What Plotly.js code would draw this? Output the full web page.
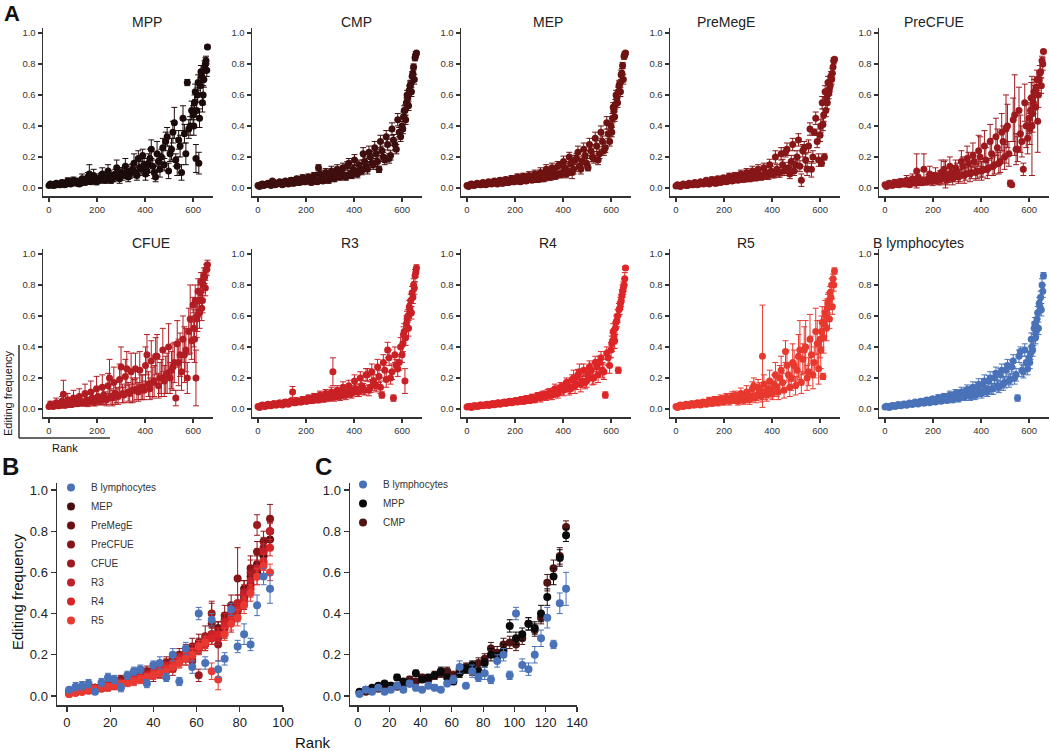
<!DOCTYPE html>
<html>
<head>
<meta charset="utf-8">
<script src="https://cdn.plot.ly/plotly-3.0.1.min.js"></script>
<style>
  html, body { margin: 0; padding: 0; background: #fff; }
  #chart { width: 1050px; height: 751px; }
</style>
</head>
<body>
<div id="chart"></div>
<script>
// ================= DATA: PANEL A (rank vs editing frequency per cell type) =================
// two interleaved rank sets per panel (upper/lower side of the scatter band)
const rankA = [0,12,24,36,48,60,72,84,96,108,
               120,132,144,156,168,180,192,204,216,228,
               240,252,264,276,288,300,312,324,336,348,
               360,372,384,396,408,420,432,444,456,468,
               480,492,504,516,528,540,552,564,576,588,
               600,606,612,618,624,630,636,642,648,654,660];
const rankA2 = [6,18,30,42,54,66,78,90,102,114,
                126,138,150,162,174,186,198,210,222,234,
                246,258,270,282,294,306,318,330,342,354,
                366,378,390,402,414,426,438,450,462,474,
                486,498,510,522,534,546,558,570,582,594,
                603,609,615,621,627,633,639,645,651,657];

const mppVals = [.015,.02,.018,.025,.02,.03,.025,.04,.03,.035,
                 .045,.03,.05,.04,.09,.045,.06,.05,.07,.055,
                 .065,.08,.06,.09,.075,.10,.085,.11,.09,.12,
                 .10,.19,.12,.15,.11,.19,.14,.07,.17,.20,
                 .15,.33,.22,.36,.18,.31,.10,.35,.68,.40,
                 .47,.55,.19,.60,.16,.66,.72,.60,.78,.82,.91];
const mppErr  = [.005,.008,.006,.01,.008,.012,.01,.015,.01,.012,
                 .015,.01,.02,.015,.06,.015,.02,.02,.025,.02,
                 .02,.03,.02,.03,.025,.03,.025,.03,.03,.035,
                 .03,.05,.03,.04,.03,.06,.04,.03,.05,.05,
                 .04,.06,.05,.07,.04,.06,.05,.06,.02,.06,
                 .06,.05,.09,.05,.07,.05,.04,.06,.04,.03,.01];
const mppVals2 = [.025,.015,.03,.02,.035,.02,.045,.025,.05,.03,
                  .025,.06,.035,.07,.04,.08,.04,.06,.09,.05,
                  .11,.05,.07,.13,.06,.09,.14,.07,.11,.16,
                  .08,.13,.21,.09,.16,.25,.10,.22,.12,.26,
                  .30,.11,.25,.42,.14,.27,.45,.22,.38,.50,
                  .40,.62,.50,.68,.45,.75,.55,.70,.80,.76];
const mppErr2  = [.01,.008,.012,.01,.015,.01,.02,.01,.02,.012,
                  .01,.03,.015,.03,.015,.04,.02,.03,.04,.02,
                  .04,.02,.03,.05,.03,.04,.05,.03,.04,.06,
                  .03,.05,.04,.04,.06,.06,.04,.08,.05,.06,
                  .06,.05,.07,.10,.06,.07,.08,.07,.06,.06,
                  .06,.05,.06,.05,.06,.04,.06,.05,.04,.04];

const cmpVals = [.015,.02,.015,.025,.02,.045,.02,.03,.025,.035,
                 .03,.04,.03,.05,.035,.045,.04,.05,.045,.06,
                 .05,.13,.055,.07,.06,.08,.065,.09,.075,.10,
                 .08,.14,.09,.12,.10,.15,.11,.17,.12,.20,
                 .15,.22,.12,.24,.18,.28,.21,.31,.25,.36,
                 .40,.46,.50,.55,.58,.63,.67,.72,.78,.84,.87];
const cmpErr  = [.005,.006,.005,.008,.006,.01,.006,.01,.008,.01,
                 .01,.012,.01,.015,.012,.015,.012,.015,.015,.02,
                 .015,.02,.015,.02,.015,.02,.02,.025,.02,.03,
                 .02,.03,.02,.03,.025,.03,.025,.03,.03,.035,
                 .03,.03,.02,.03,.03,.035,.03,.035,.03,.03,
                 .03,.03,.035,.03,.03,.03,.025,.03,.02,.02,.01];
const cmpVals2 = [.01,.025,.02,.03,.015,.035,.025,.04,.02,.045,
                  .025,.05,.03,.06,.035,.065,.04,.07,.035,.08,
                  .04,.09,.045,.10,.05,.11,.06,.12,.07,.13,
                  .07,.16,.08,.18,.09,.12,.22,.14,.23,.16,
                  .26,.17,.30,.20,.33,.19,.38,.28,.44,.33,
                  .38,.50,.44,.60,.53,.66,.62,.74,.70,.86];
const cmpErr2  = [.005,.008,.006,.01,.006,.01,.008,.012,.008,.012,
                  .01,.015,.01,.015,.012,.02,.012,.02,.015,.02,
                  .015,.025,.015,.025,.02,.03,.02,.03,.02,.03,
                  .02,.03,.02,.035,.025,.03,.04,.03,.04,.03,
                  .04,.03,.04,.03,.04,.03,.04,.03,.04,.03,
                  .03,.03,.03,.03,.03,.03,.03,.03,.03,.02];

const mepVals = [.015,.02,.018,.02,.025,.02,.03,.025,.035,.03,
                 .035,.04,.03,.045,.035,.05,.04,.055,.045,.06,
                 .05,.065,.07,.055,.08,.06,.09,.07,.10,.08,
                 .11,.09,.15,.10,.13,.11,.16,.12,.19,.14,
                 .17,.21,.13,.24,.19,.27,.22,.30,.26,.35,
                 .40,.45,.50,.54,.58,.62,.67,.73,.79,.85,.87];
const mepErr  = [.005,.006,.005,.008,.006,.01,.006,.01,.008,.01,
                 .01,.012,.01,.015,.012,.015,.012,.015,.015,.02,
                 .015,.02,.015,.02,.015,.02,.02,.025,.02,.03,
                 .02,.03,.02,.03,.025,.03,.025,.03,.03,.035,
                 .03,.03,.02,.03,.03,.035,.03,.035,.03,.03,
                 .03,.03,.035,.03,.03,.03,.025,.03,.02,.02,.01];
const mepVals2 = [.01,.025,.015,.03,.02,.035,.02,.04,.025,.045,
                  .025,.05,.03,.055,.035,.06,.04,.07,.04,.075,
                  .045,.08,.05,.09,.055,.10,.06,.12,.07,.13,
                  .075,.14,.085,.17,.09,.20,.10,.18,.23,.12,
                  .25,.16,.28,.20,.32,.18,.36,.24,.42,.30,
                  .36,.52,.46,.60,.55,.66,.62,.74,.70,.86];
const mepErr2  = [.005,.008,.006,.01,.006,.01,.008,.012,.008,.012,
                  .01,.015,.01,.015,.012,.02,.012,.02,.015,.02,
                  .015,.025,.015,.025,.02,.03,.02,.03,.02,.03,
                  .02,.03,.02,.035,.025,.03,.04,.03,.04,.03,
                  .04,.03,.04,.03,.04,.03,.04,.03,.04,.03,
                  .03,.03,.03,.03,.03,.03,.03,.03,.03,.02];

const premegeVals = [.012,.015,.018,.02,.015,.025,.02,.03,.025,.035,
                     .03,.04,.035,.045,.03,.05,.04,.055,.045,.06,
                     .05,.065,.055,.07,.06,.08,.065,.09,.07,.085,
                     .075,.10,.08,.11,.09,.12,.10,.15,.23,.13,
                     .17,.11,.20,.14,.24,.18,.27,.12,.36,.30,
                     .34,.16,.41,.20,.50,.55,.61,.66,.70,.78,.83];
const premegeErr  = [.004,.005,.006,.007,.005,.008,.008,.01,.008,.01,
                     .01,.012,.01,.015,.01,.015,.012,.015,.015,.02,
                     .015,.02,.015,.02,.02,.025,.02,.025,.02,.025,
                     .02,.03,.025,.03,.025,.03,.03,.035,.03,.035,
                     .04,.03,.04,.035,.04,.04,.04,.05,.02,.04,
                     .04,.02,.04,.02,.04,.04,.035,.04,.03,.04,.01];
const premegeVals2 = [.02,.01,.025,.015,.03,.02,.035,.02,.04,.025,
                      .05,.025,.055,.03,.06,.035,.065,.04,.075,.045,
                      .08,.05,.09,.055,.10,.06,.11,.065,.12,.07,
                      .13,.08,.15,.09,.20,.10,.22,.11,.25,.09,
                      .28,.15,.31,.05,.26,.12,.38,.20,.45,.18,
                      .40,.55,.47,.62,.58,.68,.64,.72,.74,.82];
const premegeErr2  = [.005,.004,.006,.005,.008,.006,.01,.006,.01,.008,
                      .012,.008,.015,.01,.015,.012,.015,.012,.02,.015,
                      .02,.015,.025,.015,.025,.02,.03,.02,.03,.02,
                      .03,.025,.035,.025,.04,.03,.04,.03,.04,.03,
                      .04,.04,.04,.04,.04,.04,.04,.04,.04,.04,
                      .04,.04,.04,.04,.04,.04,.04,.03,.03,.02];

const precfueVals = [.02,.015,.025,.02,.03,.02,.035,.025,.04,.03,
                     .04,.11,.035,.05,.04,.06,.045,.07,.05,.08,
                     .06,.09,.065,.10,.07,.11,.08,.14,.09,.16,
                     .10,.17,.11,.20,.12,.18,.13,.22,.15,.26,
                     .17,.30,.38,.22,.02,.47,.25,.35,.12,.40,
                     .45,.50,.40,.55,.60,.65,.43,.70,.75,.82,.88];
const precfueErr  = [.008,.008,.01,.01,.012,.01,.015,.012,.015,.012,
                     .015,.11,.015,.02,.02,.025,.02,.03,.025,.03,
                     .03,.09,.03,.04,.03,.05,.04,.06,.04,.07,
                     .04,.06,.05,.13,.05,.08,.05,.10,.06,.12,
                     .07,.10,.22,.08,.01,.26,.08,.12,.04,.14,
                     .10,.08,.32,.07,.06,.05,.20,.05,.04,.03,.01];
const precfueVals2 = [.01,.03,.015,.035,.02,.04,.025,.05,.02,.06,
                      .03,.07,.035,.12,.04,.09,.045,.08,.05,.10,
                      .12,.05,.14,.06,.13,.07,.17,.08,.19,.09,
                      .21,.10,.24,.11,.27,.12,.30,.14,.33,.16,
                      .36,.20,.40,.03,.44,.25,.50,.30,.55,.32,
                      .38,.58,.48,.62,.52,.70,.60,.74,.66,.80];
const precfueErr2  = [.01,.015,.01,.02,.01,.02,.015,.03,.015,.03,
                      .015,.04,.02,.10,.02,.05,.03,.05,.03,.08,
                      .05,.03,.06,.04,.05,.04,.07,.05,.08,.05,
                      .08,.05,.10,.06,.10,.06,.11,.06,.12,.07,
                      .12,.08,.14,.02,.14,.10,.15,.10,.12,.10,
                      .10,.10,.12,.08,.10,.06,.08,.05,.05,.04];

const cfueVals = [.015,.02,.025,.02,.03,.095,.025,.04,.03,.045,
                  .035,.05,.04,.06,.045,.07,.05,.08,.055,.09,
                  .06,.20,.07,.10,.08,.27,.09,.26,.10,.12,
                  .26,.11,.14,.12,.35,.13,.17,.34,.15,.20,
                  .18,.23,.20,.27,.07,.30,.24,.35,.20,.58,
                  .67,.45,.20,.60,.70,.75,.65,.80,.85,.90,.93];
const cfueErr  = [.008,.01,.012,.01,.015,.09,.012,.02,.015,.02,
                  .015,.03,.02,.04,.02,.04,.03,.05,.03,.06,
                  .04,.12,.05,.07,.05,.13,.05,.11,.06,.08,
                  .10,.06,.08,.06,.13,.07,.10,.12,.08,.12,
                  .10,.13,.10,.15,.05,.15,.12,.18,.10,.22,
                  .05,.15,.18,.10,.06,.05,.08,.05,.04,.03,.03];
const cfueVals2 = [.03,.015,.04,.02,.05,.025,.06,.03,.07,.035,
                   .08,.04,.10,.045,.11,.05,.13,.06,.14,.07,
                   .15,.08,.17,.09,.19,.10,.21,.11,.24,.12,
                   .13,.25,.14,.28,.16,.31,.18,.34,.20,.38,
                   .22,.40,.25,.30,.42,.35,.45,.38,.50,.44,
                   .52,.70,.58,.76,.62,.82,.70,.86,.78,.90];
const cfueErr2  = [.02,.01,.03,.01,.03,.015,.04,.02,.05,.02,
                   .05,.02,.06,.03,.07,.03,.08,.03,.08,.04,
                   .08,.05,.10,.05,.10,.06,.11,.06,.12,.07,
                   .07,.12,.08,.12,.08,.13,.10,.14,.10,.14,
                   .12,.15,.12,.13,.15,.14,.15,.14,.15,.12,
                   .12,.10,.12,.08,.10,.06,.08,.05,.05,.04];

const r3Vals = [.015,.02,.018,.025,.02,.03,.025,.035,.03,.04,
                .035,.045,.11,.04,.05,.045,.055,.05,.06,.055,
                .065,.06,.07,.065,.08,.075,.24,.085,.09,.10,
                .095,.11,.10,.12,.13,.11,.15,.12,.22,.14,
                .18,.15,.21,.09,.25,.38,.20,.07,.28,.30,
                .35,.48,.18,.55,.60,.66,.70,.75,.80,.86,.91];
const r3Err  = [.005,.006,.006,.008,.006,.01,.008,.01,.01,.012,
                .01,.012,.035,.012,.015,.012,.015,.015,.02,.015,
                .02,.02,.02,.02,.025,.02,.09,.025,.025,.03,
                .025,.03,.025,.03,.03,.03,.035,.03,.04,.035,
                .04,.04,.04,.02,.05,.05,.04,.02,.04,.05,
                .05,.05,.08,.05,.04,.04,.04,.04,.04,.04,.02];
const r3Vals2 = [.01,.025,.015,.03,.02,.035,.025,.04,.025,.045,
                 .03,.05,.04,.055,.045,.06,.05,.07,.055,.08,
                 .06,.09,.065,.10,.07,.11,.075,.12,.08,.14,
                 .09,.15,.10,.18,.11,.20,.13,.22,.12,.24,
                 .16,.27,.14,.30,.19,.33,.24,.35,.26,.40,
                 .42,.50,.46,.58,.52,.64,.62,.72,.78,.88];
const r3Err2  = [.005,.008,.006,.01,.008,.01,.008,.012,.01,.012,
                 .01,.015,.012,.015,.015,.02,.015,.02,.02,.02,
                 .02,.025,.02,.025,.02,.03,.025,.03,.025,.035,
                 .03,.035,.03,.04,.03,.04,.035,.04,.035,.05,
                 .04,.05,.04,.05,.05,.05,.05,.05,.05,.06,
                 .05,.05,.05,.05,.05,.04,.04,.04,.04,.03];

const r4Vals = [.012,.015,.018,.02,.018,.025,.022,.03,.025,.035,
                .03,.04,.035,.045,.04,.05,.045,.055,.05,.06,
                .055,.065,.06,.07,.075,.08,.085,.09,.095,.10,
                .105,.11,.12,.13,.14,.15,.13,.20,.16,.24,
                .18,.17,.22,.25,.20,.27,.30,.25,.09,.33,
                .38,.44,.47,.52,.57,.25,.65,.70,.76,.80,.91];
const r4Err  = [.004,.005,.005,.006,.006,.007,.007,.008,.008,.01,
                .01,.01,.01,.012,.012,.015,.012,.015,.015,.02,
                .015,.02,.02,.02,.02,.025,.025,.025,.03,.03,
                .03,.03,.03,.035,.03,.04,.03,.05,.035,.05,
                .04,.04,.04,.045,.04,.05,.04,.05,.02,.05,
                .05,.05,.05,.04,.04,.02,.04,.04,.04,.04,.01];
const r4Vals2 = [.015,.01,.02,.015,.025,.02,.028,.022,.032,.027,
                 .038,.03,.042,.035,.048,.04,.052,.045,.058,.05,
                 .068,.055,.075,.06,.085,.07,.09,.08,.10,.09,
                 .13,.10,.14,.12,.17,.13,.19,.15,.22,.16,
                 .25,.18,.27,.20,.30,.22,.33,.24,.36,.28,
                 .42,.50,.44,.56,.60,.64,.68,.73,.78,.84];
const r4Err2  = [.004,.005,.005,.006,.006,.007,.007,.008,.008,.01,
                 .01,.01,.01,.012,.012,.015,.012,.015,.015,.02,
                 .015,.02,.02,.02,.02,.025,.025,.025,.03,.03,
                 .03,.03,.03,.035,.03,.04,.03,.05,.035,.05,
                 .04,.04,.04,.045,.04,.05,.04,.05,.04,.05,
                 .05,.05,.05,.04,.04,.04,.04,.04,.04,.04];

const r5Vals = [.015,.02,.018,.025,.02,.03,.025,.035,.03,.04,
                .035,.045,.04,.05,.045,.055,.05,.06,.055,.07,
                .06,.075,.065,.08,.07,.09,.08,.15,.09,.12,
                .34,.11,.13,.12,.16,.14,.20,.17,.37,.22,
                .20,.28,.25,.38,.32,.40,.24,.35,.30,.42,
                .45,.50,.21,.55,.60,.65,.70,.75,.80,.84,.89];
const r5Err  = [.006,.008,.008,.01,.008,.012,.01,.012,.012,.015,
                .012,.015,.015,.02,.015,.02,.02,.025,.02,.03,
                .025,.03,.025,.03,.03,.035,.03,.05,.035,.05,
                .33,.05,.05,.05,.06,.06,.08,.06,.07,.08,
                .08,.10,.08,.19,.10,.17,.09,.12,.10,.15,
                .12,.10,.02,.08,.06,.06,.05,.04,.04,.03,.02];
const r5Vals2 = [.01,.025,.015,.03,.02,.035,.025,.04,.025,.045,
                 .03,.055,.035,.06,.04,.065,.045,.075,.05,.08,
                 .085,.05,.10,.055,.11,.06,.13,.07,.14,.08,
                 .16,.09,.18,.10,.22,.11,.25,.12,.28,.14,
                 .30,.15,.34,.17,.38,.20,.45,.22,.50,.26,
                 .38,.56,.46,.62,.52,.68,.58,.72,.66,.80];
const r5Err2  = [.006,.008,.008,.01,.008,.012,.01,.012,.012,.015,
                 .015,.02,.015,.02,.02,.025,.02,.025,.025,.03,
                 .03,.025,.035,.025,.04,.03,.045,.03,.05,.035,
                 .06,.04,.07,.04,.08,.05,.09,.05,.10,.06,
                 .12,.06,.14,.07,.15,.08,.16,.09,.15,.10,
                 .12,.10,.10,.08,.08,.06,.06,.05,.05,.04];

const blymVals = [.012,.015,.015,.02,.02,.025,.025,.03,.03,.035,
                  .035,.04,.04,.045,.045,.05,.055,.055,.06,.065,
                  .065,.07,.075,.08,.085,.09,.095,.10,.105,.11,
                  .115,.09,.14,.11,.16,.12,.18,.13,.20,.15,
                  .22,.16,.25,.18,.27,.20,.07,.37,.24,.30,
                  .33,.36,.40,.45,.55,.50,.62,.68,.72,.80,.86];
const blymErr  = [.004,.005,.005,.006,.006,.008,.008,.01,.01,.012,
                  .01,.012,.012,.015,.012,.015,.015,.015,.015,.02,
                  .015,.02,.02,.02,.02,.025,.025,.025,.025,.03,
                  .03,.03,.03,.03,.035,.03,.035,.035,.04,.035,
                  .04,.04,.04,.04,.04,.04,.02,.03,.04,.04,
                  .04,.04,.04,.04,.04,.03,.04,.04,.04,.04,.02];
const blymVals2 = [.018,.01,.022,.015,.028,.02,.032,.024,.038,.028,
                   .045,.032,.05,.036,.058,.04,.065,.045,.072,.05,
                   .08,.055,.09,.06,.10,.065,.11,.075,.125,.08,
                   .14,.09,.16,.10,.18,.11,.20,.13,.23,.14,
                   .25,.17,.28,.19,.31,.22,.34,.25,.38,.26,
                   .30,.45,.38,.52,.46,.58,.52,.66,.64,.76];
const blymErr2  = [.004,.005,.005,.006,.006,.008,.008,.01,.01,.012,
                   .012,.01,.015,.012,.015,.012,.015,.015,.02,.015,
                   .02,.015,.025,.02,.025,.02,.03,.02,.03,.025,
                   .035,.025,.035,.03,.04,.03,.04,.035,.04,.035,
                   .04,.035,.04,.035,.04,.04,.04,.04,.04,.04,
                   .04,.04,.04,.04,.04,.04,.04,.04,.04,.04];

const namesA = ['MPP','CMP','MEP','PreMegE','PreCFUE','CFUE','R3','R4','R5','B lymphocytes'];
const valsA  = [mppVals, cmpVals, mepVals, premegeVals, precfueVals, cfueVals, r3Vals, r4Vals, r5Vals, blymVals];
const errsA  = [mppErr, cmpErr, mepErr, premegeErr, precfueErr, cfueErr, r3Err, r4Err, r5Err, blymErr];
const valsA2 = [mppVals2, cmpVals2, mepVals2, premegeVals2, precfueVals2, cfueVals2, r3Vals2, r4Vals2, r5Vals2, blymVals2];
const errsA2 = [mppErr2, cmpErr2, mepErr2, premegeErr2, precfueErr2, cfueErr2, r3Err2, r4Err2, r5Err2, blymErr2];

// ================= DATA: PANEL B =================
const rankB = [1,4,7,10,13,16,19,22,25,28,31,34,37,40,43,46,49,52,55,58,61,64,67,70,73,76,79,82,85,88,91,94];
const namesB = ['B lymphocytes','MEP','PreMegE','PreCFUE','CFUE','R3','R4','R5'];
const bBlym    = [.03,.045,.05,.06,.02,.065,.09,.08,.04,.10,.12,.13,.06,.15,.16,.09,.20,.07,.23,.14,.40,.16,.37,.13,.18,.42,.24,.30,.25,.44,.58,.52];
const bBlymErr = [.01,.02,.02,.02,.01,.02,.02,.02,.02,.02,.02,.02,.02,.02,.03,.02,.03,.02,.03,.03,.03,.03,.03,.04,.03,.03,.03,.05,.03,.05,.04,.07];
const bMep     = [.015,.02,.025,.03,.035,.04,.05,.055,.065,.07,.08,.09,.10,.11,.12,.14,.16,.17,.19,.21,.23,.26,.28,.30,.34,.38,.42,.48,.54,.60,.68,.76];
const bMepErr  = [.01,.01,.01,.01,.01,.01,.01,.015,.015,.015,.015,.02,.02,.02,.02,.02,.02,.02,.025,.025,.025,.03,.03,.03,.03,.03,.03,.03,.03,.03,.03,.03];
const bPremege = [.02,.02,.03,.035,.03,.045,.05,.06,.07,.08,.09,.10,.11,.12,.14,.15,.17,.18,.20,.22,.25,.27,.30,.33,.37,.40,.45,.52,.58,.64,.70,.80];
const bPremegeErr = [.01,.01,.01,.01,.01,.015,.015,.015,.015,.02,.02,.02,.02,.02,.02,.025,.025,.025,.025,.03,.03,.03,.03,.03,.03,.03,.04,.04,.04,.04,.04,.04];
const bPrecfue = [.02,.025,.03,.03,.04,.05,.045,.06,.08,.07,.09,.11,.12,.13,.12,.16,.18,.20,.19,.24,.26,.29,.35,.31,.39,.44,.57,.50,.62,.70,.75,.86];
const bPrecfueErr = [.01,.01,.01,.015,.015,.015,.02,.02,.02,.02,.02,.025,.025,.03,.03,.03,.03,.03,.04,.04,.04,.05,.10,.05,.05,.05,.15,.06,.06,.05,.05,.07];
const bCfue    = [.015,.02,.03,.04,.04,.05,.06,.05,.07,.08,.08,.09,.11,.10,.14,.15,.13,.18,.21,.17,.10,.26,.40,.25,.33,.36,.41,.47,.60,.83,.72,.80];
const bCfueErr = [.01,.01,.01,.015,.015,.015,.02,.02,.02,.02,.02,.02,.025,.03,.03,.03,.03,.03,.04,.04,.03,.04,.06,.08,.05,.05,.05,.05,.06,.05,.05,.05];
const bR3      = [.015,.02,.025,.03,.04,.04,.05,.06,.06,.07,.09,.09,.10,.12,.13,.14,.15,.17,.20,.22,.24,.27,.30,.28,.36,.40,.45,.50,.56,.62,.70,.80];
const bR3Err   = [.01,.01,.01,.01,.015,.015,.015,.015,.02,.02,.02,.02,.02,.02,.025,.025,.025,.03,.03,.03,.03,.03,.03,.03,.04,.04,.04,.04,.04,.04,.04,.04];
const bR4      = [.01,.015,.02,.025,.03,.035,.04,.05,.06,.07,.08,.085,.09,.11,.12,.14,.16,.18,.20,.19,.23,.25,.28,.30,.34,.38,.42,.46,.52,.58,.65,.72];
const bR4Err   = [.01,.01,.01,.01,.01,.01,.015,.015,.015,.015,.02,.02,.02,.02,.02,.02,.025,.025,.025,.025,.03,.03,.03,.03,.03,.03,.03,.03,.04,.04,.04,.04];
const bR5      = [.01,.015,.02,.03,.035,.04,.045,.05,.06,.065,.07,.08,.09,.10,.11,.12,.14,.16,.18,.20,.24,.26,.12,.08,.30,.35,.38,.44,.50,.58,.63,.60];
const bR5Err   = [.01,.01,.01,.01,.01,.015,.015,.015,.015,.02,.02,.02,.02,.02,.025,.025,.025,.025,.03,.03,.03,.03,.04,.05,.03,.03,.04,.04,.04,.04,.04,.04];
const valsB = [bBlym, bMep, bPremege, bPrecfue, bCfue, bR3, bR4, bR5];
const errsB = [bBlymErr, bMepErr, bPremegeErr, bPrecfueErr, bCfueErr, bR3Err, bR4Err, bR5Err];

// ================= DATA: PANEL C =================
const rankC = [1,5,9,13,17,21,25,29,33,37,41,45,49,53,57,61,65,69,73,77,81,85,89,93,97,101,105,109,113,117,121,125,129,133];
const namesC = ['B lymphocytes','MPP','CMP'];
const cBlym    = [.01,.03,.02,.04,.02,.03,.05,.03,.06,.04,.03,.05,.04,.03,.06,.08,.14,.05,.12,.09,.11,.08,.17,.20,.10,.40,.15,.13,.20,.28,.38,.25,.45,.52];
const cBlymErr = [.005,.01,.01,.01,.01,.01,.015,.01,.015,.015,.01,.015,.015,.01,.015,.02,.03,.01,.03,.02,.03,.02,.03,.03,.02,.03,.03,.03,.04,.04,.05,.02,.05,.08];
const cMpp     = [.02,.03,.04,.05,.06,.05,.09,.07,.06,.11,.08,.09,.10,.12,.09,.07,.11,.13,.15,.12,.16,.20,.19,.22,.34,.28,.30,.35,.33,.40,.48,.58,.67,.78];
const cMppErr  = [.01,.01,.01,.01,.01,.01,.015,.01,.01,.015,.015,.015,.015,.02,.015,.015,.02,.02,.02,.02,.02,.03,.02,.03,.03,.03,.03,.03,.03,.04,.04,.04,.04,.03];
const cCmp     = [.015,.02,.03,.035,.04,.05,.045,.06,.08,.07,.09,.08,.10,.11,.12,.10,.13,.14,.12,.16,.18,.23,.21,.25,.26,.25,.28,.35,.32,.38,.55,.62,.68,.82];
const cCmpErr  = [.01,.01,.01,.01,.01,.01,.01,.015,.015,.015,.015,.015,.02,.02,.02,.02,.02,.02,.02,.025,.025,.03,.03,.03,.03,.03,.03,.03,.03,.03,.04,.04,.04,.03];
const valsC = [cBlym, cMpp, cCmp];
const errsC = [cBlymErr, cMppErr, cCmpErr];

// ================= STYLE =================
const colorsA = ['#1c0b0b','#3f0e0e','#6e1212','#861617','#9c1a1e','#b21d23','#c92126','#de2527','#e8392f','#4a72b8'];
const colorsB = ['#4a72b8','#4a0d0d','#6a1011','#861518','#9c1b1f','#c0202a','#d82327','#e83a33'];
const colorsC = ['#4a72b8','#0a0a0a','#4f1414'];

const W = 1050, H = 751;
const FONT = 'Arial, "Liberation Sans", sans-serif';
function px(x) { return x / W; }
function py(y) { return 1 - y / H; }

function axisBase(extra) {
    return Object.assign({
        showgrid: false, zeroline: false, showline: true,
        linecolor: '#333', linewidth: 1.5,
        ticks: 'outside', ticklen: 4, tickwidth: 1.2, tickcolor: '#333',
        fixedrange: true
    }, extra);
}

let traces = [];
let layout = {
    width: W, height: H,
    margin: {l: 0, r: 0, t: 0, b: 0},
    paper_bgcolor: '#fff', plot_bgcolor: 'rgba(0,0,0,0)',
    font: {family: FONT, color: '#222'},
    showlegend: true,
    annotations: [], shapes: []
};

// ---- panel A: 2 rows x 5 small plots
const colX = [43, 252, 461, 670, 879];
const rowTop = [28, 249];
for (let i = 0; i < 10; i++) {
    let n = i + 1;
    let sfx = (n === 1 ? '' : String(n));
    let r = Math.floor(i / 5), c = i % 5;
    let x0 = colX[c], top = rowTop[r], bot = top + 168;
    layout['xaxis' + sfx] = axisBase({
        domain: [px(x0), px(x0 + 170)], range: [-25, 683], anchor: 'y' + sfx,
        tickvals: [0, 200, 400, 600], tickfont: {size: 9.5, color: '#333'}
    });
    layout['yaxis' + sfx] = axisBase({
        domain: [py(bot), py(top)], range: [-0.052, 1.032], anchor: 'x' + sfx,
        tickvals: [0, 0.2, 0.4, 0.6, 0.8, 1.0], tickformat: '.1f', tickfont: {size: 9.5, color: '#333'}
    });
    [[rankA2, valsA2[i], errsA2[i]], [rankA, valsA[i], errsA[i]]].forEach(function (set) {
        traces.push({
            type: 'scatter', mode: 'markers', x: set[0], y: set[1],
            xaxis: 'x' + sfx, yaxis: 'y' + sfx,
            marker: {color: colorsA[i], size: 7},
            error_y: {type: 'data', array: set[2], color: colorsA[i], thickness: 1, width: 3},
            showlegend: false, hoverinfo: 'skip'
        });
    });
    layout.annotations.push({
        xref: 'paper', yref: 'paper', x: px(x0 + 87), y: py(top - 6), yanchor: 'middle',
        text: namesA[i], showarrow: false, font: {size: 14, color: '#222'}
    });
}

// ---- panel B
layout.xaxis11 = axisBase({
    domain: [px(57), px(283)], range: [-4.6, 100], anchor: 'y11',
    tickvals: [0, 20, 40, 60, 80, 100], tickfont: {size: 13, color: '#222'}, ticklen: 5
});
layout.yaxis11 = axisBase({
    domain: [py(705), py(483)], range: [-0.044, 1.034], anchor: 'x11',
    tickvals: [0, 0.2, 0.4, 0.6, 0.8, 1.0], tickformat: '.1f', tickfont: {size: 13, color: '#222'}, ticklen: 5
});
const drawOrderB = [1, 2, 3, 4, 5, 6, 7, 0];
drawOrderB.forEach(function (k) {
    traces.push({
        type: 'scatter', mode: 'markers', x: rankB, y: valsB[k], name: namesB[k],
        xaxis: 'x11', yaxis: 'y11', legend: 'legend', legendrank: k + 1,
        marker: {color: colorsB[k], size: 8},
        error_y: {type: 'data', array: errsB[k], color: colorsB[k], thickness: 1, width: 3},
        hoverinfo: 'skip'
    });
});

// ---- panel C
layout.xaxis12 = axisBase({
    domain: [px(350), px(577)], range: [-5.1, 140], anchor: 'y12',
    tickvals: [0, 20, 40, 60, 80, 100, 120, 140], tickfont: {size: 13, color: '#222'}, ticklen: 5
});
layout.yaxis12 = axisBase({
    domain: [py(705), py(483)], range: [-0.044, 1.034], anchor: 'x12',
    tickvals: [0, 0.2, 0.4, 0.6, 0.8, 1.0], tickformat: '.1f', tickfont: {size: 13, color: '#222'}, ticklen: 5
});
const drawOrderC = [2, 1, 0];
drawOrderC.forEach(function (k) {
    traces.push({
        type: 'scatter', mode: 'markers', x: rankC, y: valsC[k], name: namesC[k],
        xaxis: 'x12', yaxis: 'y12', legend: 'legend2', legendrank: k + 1,
        marker: {color: colorsC[k], size: 8},
        error_y: {type: 'data', array: errsC[k], color: colorsC[k], thickness: 1, width: 3},
        hoverinfo: 'skip'
    });
});

layout.legend = {
    x: px(51), y: py(473), xanchor: 'left', yanchor: 'top',
    bgcolor: 'rgba(0,0,0,0)', font: {size: 10, color: '#333'},
    itemwidth: 30, tracegroupgap: 0
};
layout.legend2 = {
    x: px(343), y: py(470), xanchor: 'left', yanchor: 'top',
    bgcolor: 'rgba(0,0,0,0)', font: {size: 10, color: '#333'},
    itemwidth: 30, tracegroupgap: 0
};

// ---- panel letters and shared labels
function label(text, x, y, size, extra) {
    layout.annotations.push(Object.assign({
        xref: 'paper', yref: 'paper', x: px(x), y: py(y), text: text, showarrow: false,
        xanchor: 'center', yanchor: 'middle', font: {size: size, color: '#111'}
    }, extra || {}));
}
label('<b>A</b>', 12, 14, 22);
label('<b>B</b>', 10, 466, 24);
label('<b>C</b>', 323, 466, 24);
label('Editing frequency', 17, 592, 15, {textangle: -90});
label('Rank', 313, 742, 15);
label('Editing frequency', 8, 394, 11, {textangle: -90});
label('Rank', 65, 448, 11);

// scale bracket beside the CFUE plot
layout.shapes.push({type: 'line', xref: 'paper', yref: 'paper', x0: px(19), x1: px(19), y0: py(345), y1: py(438), line: {color: '#333', width: 1.5}});
layout.shapes.push({type: 'line', xref: 'paper', yref: 'paper', x0: px(19), x1: px(110), y0: py(438), y1: py(438), line: {color: '#333', width: 1.5}});

Plotly.newPlot('chart', traces, layout, {displayModeBar: false, staticPlot: true});
</script>
</body>
</html>
